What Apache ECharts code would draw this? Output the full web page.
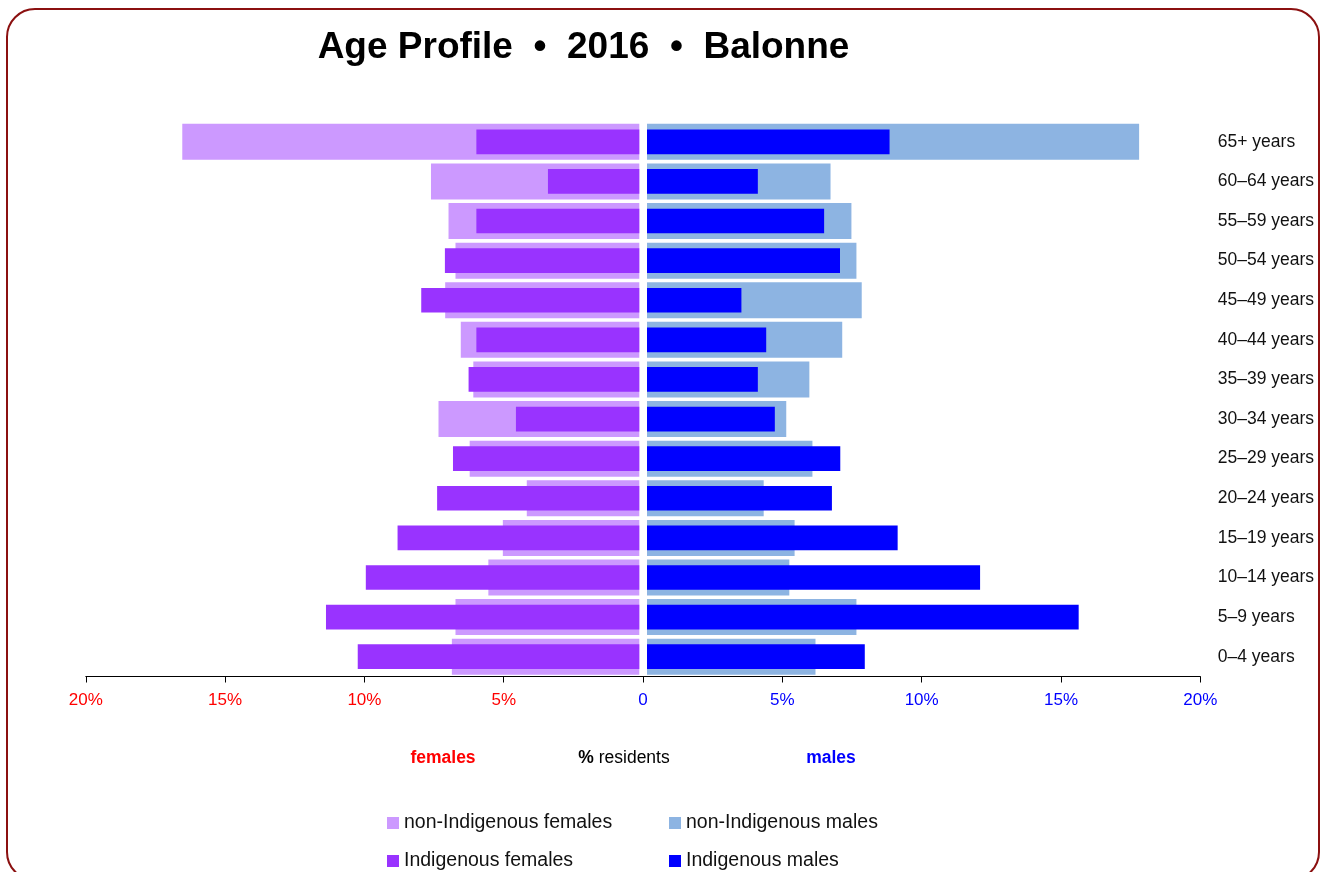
<!DOCTYPE html>
<html>
<head>
<meta charset="utf-8">
<script src="https://cdn.jsdelivr.net/npm/echarts@6/dist/echarts.min.js"></script>
<style>
html,body{margin:0;padding:0;background:#fff;}
#chart{width:1326px;height:872px;}
</style>
</head>
<body>
<div id="chart"></div>
<script>
// Categories listed bottom to top
var categories = ['0–4 years','5–9 years','10–14 years','15–19 years','20–24 years','25–29 years','30–34 years','35–39 years','40–44 years','45–49 years','50–54 years','55–59 years','60–64 years','65+ years'];
var nonIndigenousFemales = [6.73, 6.60, 5.42, 4.90, 4.04, 6.09, 7.21, 5.96, 6.41, 6.97, 6.60, 6.85, 7.48, 16.41];
var indigenousFemales    = [10.11, 11.25, 9.82, 8.68, 7.26, 6.69, 4.43, 6.13, 5.85, 7.83, 6.98, 5.85, 3.28, 5.85];
var nonIndigenousMales   = [6.05, 7.52, 5.11, 5.30, 4.19, 5.94, 5.00, 5.83, 7.01, 7.71, 7.52, 7.34, 6.59, 17.67];
var indigenousMales      = [7.82, 15.50, 11.96, 9.00, 6.64, 6.94, 4.59, 3.98, 4.28, 3.39, 6.93, 6.36, 3.98, 8.71];
var tickValues = [-20, -15, -10, -5, 0, 5, 10, 15, 20];
var seriesNames = ['non-Indigenous females', 'Indigenous females', 'non-Indigenous males', 'Indigenous males'];

var FONT = '"Liberation Sans", Arial, Helvetica, sans-serif';
var chart = echarts.init(document.getElementById('chart'), null, {renderer: 'canvas'});

var TOP = 122, HEIGHT = 554.5;

function hiddenCat(grid) {
  return {type: 'category', gridIndex: grid, data: categories, show: false, boundaryGap: true};
}
function legendItem(name, left, top) {
  return {
    left: left, top: top, itemWidth: 12, itemHeight: 12, padding: 0,
    icon: 'rect', selectedMode: false,
    textStyle: {fontSize: 19.5, fontFamily: FONT, color: '#111', padding: [0, 0, 0, 0]},
    data: [name]
  };
}

var option = {
  animation: false,
  backgroundColor: '#fff',
  grid: [
    {left: 85.8, width: 1114.5, top: TOP, height: HEIGHT, containLabel: false},
    {left: 82.3, width: 557, top: TOP, height: HEIGHT, containLabel: false},
    {left: 647, width: 557, top: TOP, height: HEIGHT, containLabel: false}
  ],
  xAxis: [
    {
      type: 'value', gridIndex: 0, min: tickValues[0], max: tickValues[tickValues.length - 1], interval: 5,
      axisLine: {show: true, lineStyle: {color: '#000', width: 1}},
      axisTick: {show: true, length: 6, lineStyle: {color: '#000', width: 1}},
      splitLine: {show: false},
      axisLabel: {
        margin: 15,
        fontSize: 17, fontFamily: FONT,
        formatter: function (v) { return v === 0 ? '0' : Math.abs(v) + '%'; },
        color: function (v) { return Number(v) < 0 ? '#ff0000' : '#0000ff'; }
      }
    },
    {type: 'value', gridIndex: 1, min: 0, max: 20, inverse: true, show: false, splitLine: {show: false}},
    {type: 'value', gridIndex: 2, min: 0, max: 20, show: false, splitLine: {show: false}}
  ],
  yAxis: [
    {
      type: 'category', gridIndex: 0, data: categories, position: 'right', boundaryGap: true,
      axisLine: {show: false}, axisTick: {show: false}, splitLine: {show: false},
      axisLabel: {margin: 17.5, fontSize: 17.5, fontFamily: FONT, color: '#111', align: 'left'}
    },
    hiddenCat(1), hiddenCat(1), hiddenCat(2), hiddenCat(2)
  ],
  legend: [
    legendItem(seriesNames[0], 387, 813),
    legendItem(seriesNames[1], 387, 851),
    legendItem(seriesNames[2], 669, 813),
    legendItem(seriesNames[3], 669, 851)
  ],
  series: [
    {name: seriesNames[0], type: 'bar', xAxisIndex: 1, yAxisIndex: 1, data: nonIndigenousFemales,
      barWidth: 36, itemStyle: {color: '#cc99ff'}, z: 2},
    {name: seriesNames[1], type: 'bar', xAxisIndex: 1, yAxisIndex: 2, data: indigenousFemales,
      barWidth: 24.7, itemStyle: {color: '#9933ff'}, z: 3},
    {name: seriesNames[2], type: 'bar', xAxisIndex: 2, yAxisIndex: 3, data: nonIndigenousMales,
      barWidth: 36, itemStyle: {color: '#8db4e2'}, z: 2},
    {name: seriesNames[3], type: 'bar', xAxisIndex: 2, yAxisIndex: 4, data: indigenousMales,
      barWidth: 24.7, itemStyle: {color: '#0000ff'}, z: 3}
  ],
  graphic: [
    {
      type: 'rect', shape: {x: 7, y: 9, width: 1312, height: 871, r: 28}, silent: true, z: 0,
      style: {fill: 'none', stroke: '#8b1010', lineWidth: 2}
    },
    {
      type: 'text', x: 583.5, y: 48, z: 10,
      style: {text: 'Age Profile  •  2016  •  Balonne', fontSize: 37, fontWeight: 'bold', fontFamily: FONT,
        fill: '#000', align: 'center', verticalAlign: 'middle'}
    },
    {
      type: 'text', x: 443, y: 758.5, z: 10,
      style: {text: 'females', fontSize: 17.5, fontWeight: 'bold', fontFamily: FONT, fill: '#ff0000',
        align: 'center', verticalAlign: 'middle'}
    },
    {
      type: 'text', x: 624, y: 758.5, z: 10,
      style: {text: '{b|%} residents', fontSize: 17.5, fontFamily: FONT, fill: '#000',
        align: 'center', verticalAlign: 'middle',
        rich: {b: {fontSize: 17.5, fontWeight: 'bold', fontFamily: FONT, fill: '#000'}}}
    },
    {
      type: 'text', x: 831, y: 758.5, z: 10,
      style: {text: 'males', fontSize: 17.5, fontWeight: 'bold', fontFamily: FONT, fill: '#0000ff',
        align: 'center', verticalAlign: 'middle'}
    }
  ]
};
chart.setOption(option);
</script>
</body>
</html>
